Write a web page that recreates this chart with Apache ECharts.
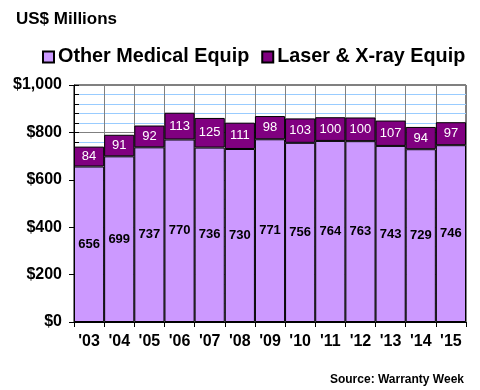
<!DOCTYPE html>
<html>
<head>
<meta charset="utf-8">
<script src="https://cdn.jsdelivr.net/npm/echarts@6/dist/echarts.min.js"></script>
<style>html,body{margin:0;padding:0;background:#fff}#c{width:480px;height:390px}</style>
</head>
<body>
<div id="c"></div>
<script>
var years = ["'03","'04","'05","'06","'07","'08","'09","'10","'11","'12","'13","'14","'15"];
var otherMedical = [656,699,737,770,736,730,771,756,764,763,743,729,746];
var laserXray = [84,91,92,113,125,111,98,103,100,100,107,94,97];
var seriesNames = ['Other Medical Equip','Laser & X-ray Equip'];

var FF = "'Liberation Sans', Arial, sans-serif";
var chart = echarts.init(document.getElementById('c'), null, {renderer:'canvas'});
chart.setOption({
  animation:false,
  title:[
    {text:'US$ Millions', left:11, top:6, textStyle:{fontFamily:FF, fontSize:17, fontWeight:'bold', color:'#000'}},
    {text:'Source: Warranty Week', right:11, top:369, textStyle:{fontFamily:FF, fontSize:12, fontWeight:'bold', color:'#000'}}
  ],
  legend:{
    data:seriesNames, left:37, top:42, icon:'rect', itemWidth:11, itemHeight:11, itemGap:12,
    textStyle:{fontFamily:FF, fontSize:19.8, fontWeight:'bold', color:'#000', padding:[0,0,0,-1]}
  },
  grid:{left:74, right:14, top:85, bottom:68, show:true, borderColor:'#000', borderWidth:1, backgroundColor:'transparent'},
  xAxis:{
    type:'category', data:years,
    axisLine:{lineStyle:{color:'#000', width:1}},
    axisTick:{show:true, length:5, lineStyle:{color:'#000'}},
    axisLabel:{fontFamily:FF, fontSize:16, fontWeight:'bold', color:'#000', margin:12},
    splitLine:{show:true, lineStyle:{color:'#808080', width:1}}
  },
  yAxis:[{
    type:'value', min:0, max:1000, interval:200,
    axisLine:{show:true, lineStyle:{color:'#000'}},
    axisTick:{show:true, length:5, lineStyle:{color:'#000'}},
    axisLabel:{fontFamily:FF, fontSize:16, fontWeight:'bold', color:'#000', margin:12,
      formatter:function(v){return '$'+v.toLocaleString('en-US');}},
    splitLine:{show:true, lineStyle:{color:'#808080', width:1}},
    minorTick:{show:false, splitNumber:5},
    minorSplitLine:{show:true, lineStyle:{color:'#99CCFF', width:1}}
  },{
    type:'value', min:0, max:1000, interval:200, position:'left',
    axisLine:{show:false},
    axisTick:{show:true, inside:true, length:5, lineStyle:{color:'#000'}},
    minorTick:{show:true, splitNumber:5, length:5, lineStyle:{color:'#000'}},
    axisLabel:{show:false},
    splitLine:{show:false}
  }],
  series:[{
    name:seriesNames[0], type:'bar', stack:'t', data:otherMedical, barCategoryGap:'0%',
    itemStyle:{color:'#CC99FF', borderColor:'#000', borderWidth:1},
    label:{show:true, position:'inside', fontFamily:FF, fontSize:13, fontWeight:'bold', color:'#000'}
  },{
    name:seriesNames[1], type:'bar', stack:'t', data:laserXray, barCategoryGap:'0%',
    itemStyle:{color:'#800080', borderColor:'#000', borderWidth:1},
    label:{show:true, position:'inside', fontFamily:FF, fontSize:13, color:'#fff'}
  }]
});
</script>
</body>
</html>
